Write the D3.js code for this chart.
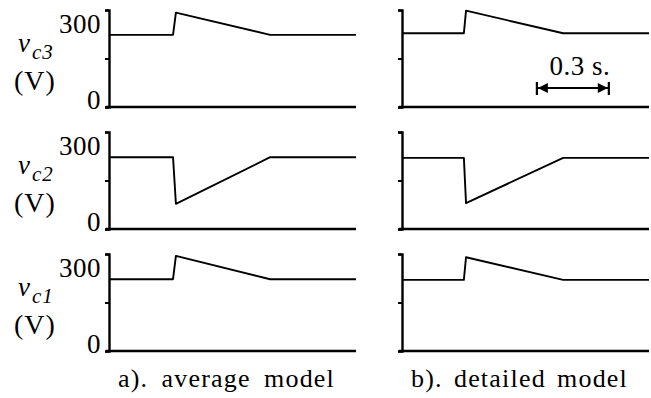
<!DOCTYPE html>
<html>
<head>
<meta charset="utf-8">
<script src="https://cdn.jsdelivr.net/npm/d3@7"></script>
<style>
  body { margin: 0; background: #fff; }
  svg { display: block; }
  text { font-family: "Liberation Serif", "Times New Roman", serif; fill: #000; }
</style>
</head>
<body>
<div id="chart"></div>
<script>
// time points (s) of the piecewise traces
var tAvg = [0, 0.267, 0.279, 0.672, 1.03];
var tDet = [0, 0.258, 0.267, 0.672, 1.03];

// capacitor voltages (V), average model
var vc3Avg = [223, 223, 292, 223, 223];
var vc2Avg = [222, 222, 78, 222, 222];
var vc1Avg = [222, 222, 294, 222, 222];

// capacitor voltages (V), detailed model
var vc3Det = [228, 228, 298, 228, 228];
var vc2Det = [220, 220, 80, 220, 220];
var vc1Det = [220, 220, 290, 220, 220];

var rowNames = ["c3", "c2", "c1"];
var yTicks = [0, 150, 300];
var captions = ["a). average model", "b). detailed model"];
var scaleBar = [0.5625, 0.8625];

var W = 651, H = 398;
var svg = d3.select("#chart").append("svg")
    .attr("width", W)
    .attr("height", H);

var rowTop = [10, 132, 254];
var rowH = 97;
var colLeft = [109, 402];
var colW = 247;

var columns = [
    { t: tAvg, rows: [vc3Avg, vc2Avg, vc1Avg], labels: true },
    { t: tDet, rows: [vc3Det, vc2Det, vc1Det], labels: false }
];

var x = d3.scaleLinear().domain([0, 1.03]).range([0, colW]);

columns.forEach(function(col, ci) {
    col.rows.forEach(function(vals, ri) {
        var y = d3.scaleLinear().domain([0, 300]).range([rowH, 0]);
        var g = svg.append("g")
            .attr("transform", "translate(" + colLeft[ci] + "," + rowTop[ri] + ")");

        var axis = d3.axisLeft(y)
            .tickValues(yTicks)
            .tickSize(4)
            .tickFormat(function(d) {
                if (!col.labels || d == 150) return "";
                return d;
            });
        var ag = g.append("g").call(axis);
        ag.select(".domain").attr("stroke-width", 2.4).attr("stroke", "#000");
        ag.selectAll(".tick line").attr("stroke-width", 2).attr("stroke", "#000");
        ag.selectAll(".tick text")
            .attr("font-size", 27)
            .attr("fill", "#000")
            .attr("x", -8)
            .attr("letter-spacing", 0.5)
            .attr("dy", function(d) { return d == 300 ? "0.82em" : "0.05em"; });

        // zero line
        g.append("line")
            .attr("x1", -3).attr("x2", x.range()[1])
            .attr("y1", y(0)).attr("y2", y(0))
            .attr("stroke", "#000")
            .attr("stroke-width", 2.4);

        var line = d3.line()
            .x(function(d, i) { return x(col.t[i]); })
            .y(function(d) { return y(d); });

        g.append("path")
            .datum(vals)
            .attr("d", line)
            .attr("fill", "none")
            .attr("stroke", "#000")
            .attr("stroke-width", 1.9)
            .attr("stroke-linejoin", "round");

        if (col.labels) {
            var lab = svg.append("text")
                .attr("x", 18)
                .attr("y", rowTop[ri] + 42)
                .attr("font-size", 27);
            lab.append("tspan").attr("font-style", "italic").text("v");
            lab.append("tspan")
                .attr("font-style", "italic")
                .attr("font-size", 21)
                .attr("letter-spacing", 1)
                .attr("dy", 7)
                .attr("dx", 2)
                .text(rowNames[ri]);
            svg.append("text")
                .attr("x", 14)
                .attr("y", rowTop[ri] + 80)
                .attr("font-size", 28)
                .attr("letter-spacing", 1)
                .text("(V)");
        }
    });
});

// captions, spaced out as in the original
captions.forEach(function(c, i) {
    var t = svg.append("text")
        .attr("x", colLeft[i] + 9)
        .attr("y", 387)
        .attr("font-size", 26)
        .attr("letter-spacing", 1.2)
        .text(c);
    var extra = (217 - t.node().getComputedTextLength()) / 2;
    if (extra > 0) t.attr("word-spacing", extra);
});

// 0.3 s scale bar in top right panel
var sb = svg.append("g").attr("transform", "translate(" + colLeft[1] + ",0)");
var bx0 = x(scaleBar[0]), bx1 = x(scaleBar[1]), by = 88;
sb.append("line")
    .attr("x1", bx0).attr("x2", bx1)
    .attr("y1", by).attr("y2", by)
    .attr("stroke", "#000").attr("stroke-width", 2.2);
[bx0, bx1].forEach(function(bx) {
    sb.append("line")
        .attr("x1", bx).attr("x2", bx)
        .attr("y1", by - 6).attr("y2", by + 7)
        .attr("stroke", "#000").attr("stroke-width", 2.2);
});
sb.append("path")
    .attr("d", "M" + (bx0 + 1) + "," + by + "L" + (bx0 + 11) + "," + (by - 5) + "L" + (bx0 + 11) + "," + (by + 5) + "Z")
    .attr("fill", "#000");
sb.append("path")
    .attr("d", "M" + (bx1 - 1) + "," + by + "L" + (bx1 - 11) + "," + (by - 5) + "L" + (bx1 - 11) + "," + (by + 5) + "Z")
    .attr("fill", "#000");
sb.append("text")
    .attr("x", (bx0 + bx1) / 2 + 7)
    .attr("y", 75)
    .attr("text-anchor", "middle")
    .attr("font-size", 27)
    .attr("letter-spacing", 0.5)
    .text("0.3 s.");
</script>
</body>
</html>
